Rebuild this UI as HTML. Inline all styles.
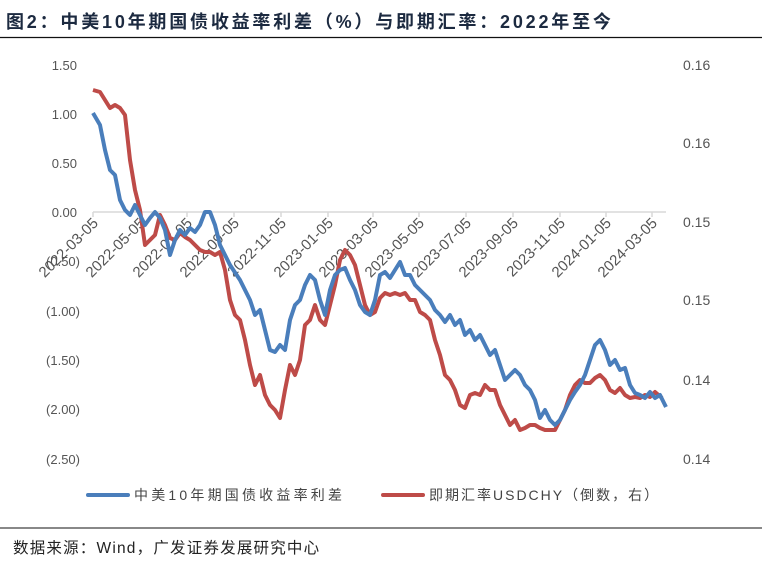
<!DOCTYPE html>
<html><head><meta charset="utf-8"><style>
body{margin:0;background:#fff;width:762px;height:565px;overflow:hidden;font-family:"Liberation Sans","Noto Sans CJK SC",sans-serif}
</style></head><body>
<svg width="762" height="565" xmlns="http://www.w3.org/2000/svg" font-family="Liberation Sans, Noto Sans CJK SC, sans-serif">
<text x="6" y="28" font-size="18" font-weight="bold" fill="#1c2a40" letter-spacing="2.8">图2：中美10年期国债收益率利差（%）与即期汇率：2022年至今</text>
<line x1="0" y1="37.5" x2="762" y2="37.5" stroke="#111" stroke-width="1.2"/>
<g font-size="13" fill="#555" text-anchor="end">
<text x="77" y="70">1.50</text><text x="77" y="119">1.00</text><text x="77" y="168">0.50</text><text x="77" y="217">0.00</text>
<text x="80" y="266">(0.50)</text><text x="80" y="316">(1.00)</text><text x="80" y="365">(1.50)</text><text x="80" y="414">(2.00)</text><text x="80" y="464">(2.50)</text>
</g>
<g font-size="14" fill="#555">
<text x="683" y="70">0.16</text><text x="683" y="148">0.16</text><text x="683" y="227">0.15</text><text x="683" y="305">0.15</text><text x="683" y="385">0.14</text><text x="683" y="464">0.14</text>
</g>
<line x1="93" y1="212" x2="666" y2="212" stroke="#d9d9d9" stroke-width="1.5"/>
<g stroke="#d9d9d9" stroke-width="1.5">
<line x1="93" y1="212" x2="93" y2="217"/><line x1="140" y1="212" x2="140" y2="217"/><line x1="187" y1="212" x2="187" y2="217"/><line x1="234" y1="212" x2="234" y2="217"/><line x1="281" y1="212" x2="281" y2="217"/><line x1="328" y1="212" x2="328" y2="217"/><line x1="373" y1="212" x2="373" y2="217"/><line x1="419" y1="212" x2="419" y2="217"/><line x1="466" y1="212" x2="466" y2="217"/><line x1="513" y1="212" x2="513" y2="217"/><line x1="560" y1="212" x2="560" y2="217"/><line x1="606" y1="212" x2="606" y2="217"/><line x1="652" y1="212" x2="652" y2="217"/>
</g>
<g font-size="15" fill="#555" text-anchor="end">
<text transform="translate(99,224) rotate(-45)">2022-03-05</text>
<text transform="translate(146,224) rotate(-45)">2022-05-05</text>
<text transform="translate(193,224) rotate(-45)">2022-07-05</text>
<text transform="translate(240,224) rotate(-45)">2022-09-05</text>
<text transform="translate(287,224) rotate(-45)">2022-11-05</text>
<text transform="translate(334,224) rotate(-45)">2023-01-05</text>
<text transform="translate(379,224) rotate(-45)">2023-03-05</text>
<text transform="translate(425,224) rotate(-45)">2023-05-05</text>
<text transform="translate(472,224) rotate(-45)">2023-07-05</text>
<text transform="translate(519,224) rotate(-45)">2023-09-05</text>
<text transform="translate(566,224) rotate(-45)">2023-11-05</text>
<text transform="translate(612,224) rotate(-45)">2024-01-05</text>
<text transform="translate(658,224) rotate(-45)">2024-03-05</text>
</g>
<polyline fill="none" stroke="#be4b48" stroke-width="4" stroke-linejoin="round" points="93,90 100,92 105,100 110,108 115,105 120,108 125,115 130,160 135,190 140,210 145,245 150,240 155,235 160,215 165,225 170,238 175,240 180,233 185,237 190,240 195,245 200,250 205,252 210,252 215,255 220,252 225,270 230,300 235,315 240,320 245,340 250,365 255,385 260,375 265,395 270,405 275,410 280,418 285,390 290,365 295,375 300,360 305,325 310,320 315,305 320,320 325,325 330,305 335,285 340,260 345,250 350,255 355,265 360,285 365,305 370,315 375,312 380,298 385,293 390,295 395,293 400,295 405,293 410,300 415,300 420,312 425,315 430,320 435,340 440,355 445,375 450,380 455,390 460,405 465,408 470,395 475,393 480,395 485,385 490,390 495,390 500,405 505,415 510,425 515,420 520,430 525,428 530,425 535,425 540,428 545,430 550,430 555,430 560,420 565,410 570,395 575,385 580,380 585,383 590,383 595,378 600,375 605,380 610,390 615,393 620,388 625,395 630,398 635,397 640,398 645,395 650,397 655,392 662,398"/>
<polyline fill="none" stroke="#4a7ebb" stroke-width="4" stroke-linejoin="round" points="93,113 100,125 105,150 110,170 115,175 120,200 125,210 130,215 135,205 140,215 145,225 150,218 155,212 160,218 165,230 170,255 175,240 180,230 185,235 190,228 195,232 200,225 205,212 210,212 215,225 220,245 230,265 240,280 250,300 255,315 260,310 265,330 270,350 275,352 280,345 285,350 290,320 295,305 300,300 305,285 310,275 315,280 320,300 325,315 330,290 335,275 340,270 345,268 350,280 355,290 360,305 365,312 370,315 375,300 380,275 385,272 390,278 395,270 400,262 405,275 410,275 415,285 420,290 425,295 430,300 435,310 440,315 445,322 450,315 455,325 460,320 465,335 470,330 475,340 480,335 485,345 490,355 495,350 500,365 505,380 510,375 515,370 520,375 525,385 530,390 535,400 540,418 545,410 550,420 555,425 560,420 565,410 570,400 575,392 580,385 585,375 590,360 595,345 600,340 605,350 610,365 615,360 620,370 625,368 630,385 635,393 640,395 645,398 650,392 655,398 660,395 666,407"/>
<line x1="88" y1="495" x2="128" y2="495" stroke="#4a7ebb" stroke-width="4" stroke-linecap="round"/>
<text x="134" y="500" font-size="14" fill="#444" letter-spacing="3.2">中美10年期国债收益率利差</text>
<line x1="383" y1="495" x2="423" y2="495" stroke="#be4b48" stroke-width="4" stroke-linecap="round"/>
<text x="429" y="500" font-size="14" fill="#444" letter-spacing="2">即期汇率USDCHY（倒数，右）</text>
<line x1="0" y1="528" x2="762" y2="528" stroke="#111" stroke-width="1"/>
<text x="13" y="553" font-size="15.5" fill="#222" letter-spacing="1.2">数据来源：Wind，广发证券发展研究中心</text>
</svg>
</body></html>
